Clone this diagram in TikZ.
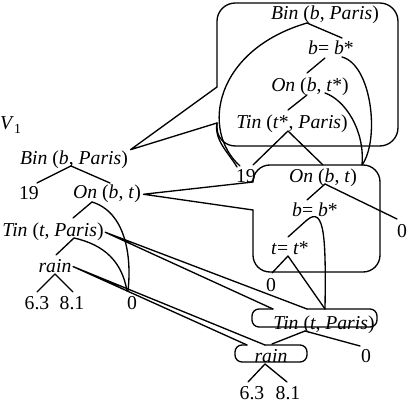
\documentclass[tikz,border=0pt]{standalone}
\usepackage{fontspec}
\setmainfont{Liberation Serif}
\usetikzlibrary{calc}

\begin{document}
\begin{tikzpicture}[x=0.025cm,y=-0.025cm,line cap=round,line join=round,line width=0.95pt,
  every node/.style={font=\fontsize{14}{16}\selectfont,inner sep=0pt,anchor=base}]
\useasboundingbox (0,0) rectangle (410,405);
% left diagram V1
\node (vone) at (11,130) {\textit{V}\textsubscript{1}};
\node (binL) at (74,165) {\textit{Bin} (\textit{b}, \textit{Paris})};
\node (n19L) at (29,200) {19};
\node (onL) at (107,199) {\textit{On} (\textit{b}, \textit{t})};
\node (tinL) at (53,237) {\textit{Tin} (\textit{t}, \textit{Paris})};
\node (rainL) at (55,273) {\textit{rain}};
\node (a63L) at (37,310) {6.3};
\node (a81L) at (72,310) {8.1};
\node (z0L) at (132,310) {0};
% nodes inside the callouts
\node (binA) at (325,20) {\textit{Bin} (\textit{b}, \textit{Paris})};
\node (eqA) at (331,55) {\textit{b}= \textit{b}*};
\node (onA) at (310,92) {\textit{On} (\textit{b}, \textit{t}*)};
\node (tinA) at (292,129) {\textit{Tin} (\textit{t}*, \textit{Paris})};
\node (n19A) at (246,183) {19};
\node (onB) at (323,183) {\textit{On} (\textit{b}, \textit{t})};
\node (eqB) at (315,217) {\textit{b}= \textit{b}*};
\node (tteq) at (290,255) {\textit{t}= \textit{t}*};
\node (z0Ba) at (271,292) {0};
\node (z0Bb) at (402,238) {0};
\node (tinB) at (324,330) {\textit{Tin} (\textit{t}, \textit{Paris})};
\node (z0C) at (366,363) {0};
\node (rainB) at (271,363) {\textit{rain}};
\node (a63B) at (252,400) {6.3};
\node (a81B) at (288,400) {8.1};
% edges of V1
\draw ($(binL.base)+(-3,1)$) -- ($(n19L.base)+(8,-17)$);
\draw ($(binL.base)+(-3,1)$) -- ($(onL.base)+(3,-16)$);
\draw ($(onL.base)+(-15,3)$) -- ($(tinL.base)+(20,-19)$);
\draw ($(onL.base)+(-15,3)$) .. controls (125,212) and (132,255) .. ($(z0L.base)+(-4,-19)$);
\draw ($(tinL.base)+(21,1)$) -- ($(rainL.base)+(1,-18)$);
\draw ($(tinL.base)+(21,1)$) .. controls (105,245) and (122,262) .. ($(z0L.base)+(-5,-19)$);
\draw ($(rainL.base)+(0,1)$) -- ($(a63L.base)+(0,-18)$);
\draw ($(rainL.base)+(0,1)$) -- ($(a81L.base)+(1,-18)$);
% callout for Bin
\coordinate (pa1) at (217,87);
\coordinate (pa2) at (217,123);
\draw[rounded corners=13pt] (pa1) -- (217,3) -- (398,3) -- (398,146) -- (217,146) -- (pa2);
\draw (pa2) -- ($(binL.north east)+(2,-1)$) -- (pa1);
\draw ($(binA.base)+(-18,3)$) -- ($(eqA.base)+(11,-17)$);
\draw ($(binA.base)+(-18,3)$) .. controls (215,50) and (200,130) .. ($(n19A.base)+(-6,-17)$);
\draw (pa2) .. controls (214,140) and (228,152) .. ($(n19A.base)+(-9,-16)$);
\draw ($(eqA.base)+(-6,3)$) -- ($(onA.base)+(-3,-19)$);
\draw ($(eqA.base)+(11,2)$) .. controls (372,65) and (380,140) .. ($(onB.base)+(39,-18)$);
\draw ($(onA.base)+(-3,3)$) -- ($(tinA.base)+(-4,-19)$);
\draw ($(onA.base)+(15,1)$) .. controls (345,100) and (365,130) .. ($(onB.base)+(39,-18)$);
\draw ($(tinA.base)+(-4,2)$) -- ($(n19A.base)+(7,-18)$);
\draw ($(tinA.base)+(-4,2)$) -- ($(onB.base)+(0,-18)$);
% callout for On
\coordinate (pb1) at (253,182);
\coordinate (pb2) at (253,210);
\draw[rounded corners=12pt] (pb1) -- (253,165) -- (380,165) -- (380,272) -- (253,272) -- (pb2);
\draw (pb2) -- ($(onL.east)+(2,0)$) -- (pb1);
\draw ($(onB.base)+(2,1)$) -- ($(eqB.base)+(-8,-17)$);
\draw ($(onB.base)+(2,1)$) -- ($(z0Bb.base)+(-5,-19)$);
\draw ($(eqB.base)+(-8,3)$) -- ($(tteq.base)+(-2,-18)$);
\draw ($(eqB.base)+(-8,3)$) .. controls (325,205) and (326,240) .. ($(tinB.base)+(1,-21)$);
\draw ($(tteq.base)+(-2,1)$) -- ($(z0Ba.base)+(1,-19)$);
\draw ($(tteq.base)+(-2,1)$) -- ($(tinB.base)+(1,-21)$);
% callout for Tin
\coordinate (pc1) at (273,309);
\coordinate (pc2) at (307,309);
\draw[rounded corners=5pt] (pc1) -- (252,309) -- (252,327) -- (377,327) -- (377,309) -- (pc2);
\draw (pc2) -- ($(tinL.east)+(1,0)$) -- (pc1);
\draw ($(tinB.base)+(-19,1)$) -- ($(rainB.base)+(1,-19)$);
\draw ($(tinB.base)+(-19,1)$) -- ($(z0C.base)+(-6,-17)$);
% callout for rain
\coordinate (pd1) at (247,345);
\coordinate (pd2) at (265,345);
\draw[rounded corners=5pt] (pd1) -- (235,345) -- (235,362) -- (307,362) -- (307,345) -- (pd2);
\draw (pd2) -- ($(rainL.east)+(1,0)$) -- (pd1);
\draw ($(rainB.base)+(-6,1)$) -- ($(a63B.base)+(-4,-18)$);
\draw ($(rainB.base)+(-6,1)$) -- ($(a81B.base)+(-1,-18)$);
\end{tikzpicture}
\end{document}
